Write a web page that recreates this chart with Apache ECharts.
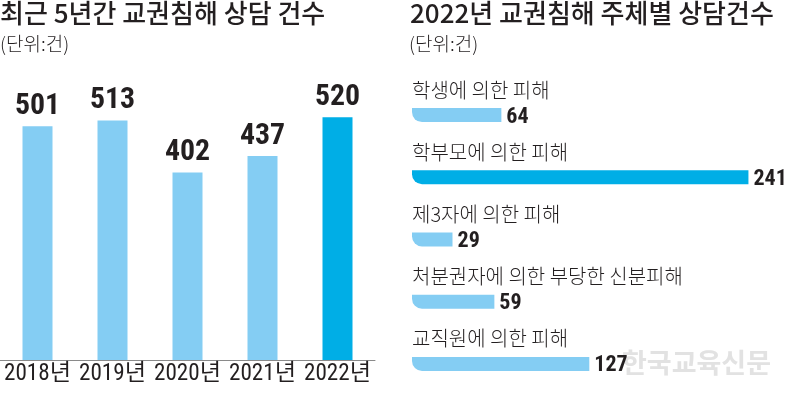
<!DOCTYPE html>
<html>
<head>
<meta charset="utf-8">
<script src="https://cdn.jsdelivr.net/npm/echarts@6/dist/echarts.min.js"></script>
<style>
  html, body { margin: 0; padding: 0; background: #ffffff; }
  #chart { width: 792px; height: 395px; }
</style>
</head>
<body>
<div id="chart"></div>
<script>
// ---- Data ----
const leftTitle = '최근 5년간 교권침해 상담 건수';
const rightTitle = '2022년 교권침해 주체별 상담건수';
const unitText = '(단위:건)';
const years = ['2018년', '2019년', '2020년', '2021년', '2022년'];
const yearCounts = [501, 513, 402, 437, 520];
const highlightYear = '2022년';
const subjects = ['학생에 의한 피해', '학부모에 의한 피해', '제3자에 의한 피해', '처분권자에 의한 부당한 신분피해', '교직원에 의한 피해'];
const subjectCounts = [64, 241, 29, 59, 127];
const highlightSubject = '학부모에 의한 피해';
const watermark = '한국교육신문';

// ---- Styles ----
const LIGHT = '#84cdf3';
const DARK = '#00aee6';
const INK = '#231f20';
const KFONT = '"Noto Sans CJK KR", "Noto Sans", sans-serif';

// pick the narrowest installed numeric font
const ctx = document.createElement('canvas').getContext('2d');
function available(f) {
  const s = '0123456789 abcdefgWM';
  for (const base of ['monospace', 'serif']) {
    ctx.font = '100px ' + base; const a = ctx.measureText(s).width;
    ctx.font = '100px "' + f + '", ' + base; const b = ctx.measureText(s).width;
    if (Math.abs(a - b) > 0.5) return true;
  }
  return false;
}
const narrowCandidates = ['Liberation Sans Narrow', 'Roboto Condensed', 'Noto Sans Condensed', 'Open Sans Condensed', 'DejaVu Sans Condensed', 'Arial Narrow', 'Liberation Sans'];
let NARROW = 'Liberation Sans';
for (const c of narrowCandidates) { if (available(c)) { NARROW = c; break; } }
const NFONT = '"' + NARROW + '", "Noto Sans CJK KR", sans-serif';

function fitSize(text, weight, targetW, targetH, k) {
  ctx.font = weight + ' 100px ' + NFONT;
  const w = ctx.measureText(text).width;
  const sw = targetW * 100 / w;
  const sh = targetH / 0.72;
  return Math.min(sh, Math.pow(sw, 1 - k) * Math.pow(sh, k));
}
const leftValueSize = fitSize('501', 'bold', 33, 22.7, 0.85);
const rightValueSize = fitSize('241', 'bold', 32, 16, 0.85);
const yearLabelSize = fitSize('2018년', 'normal', 62, 18, 0.5);

const chart = echarts.init(document.getElementById('chart'), null, { renderer: 'canvas' });

const option = {
  backgroundColor: '#ffffff',
  animation: false,
  graphic: [
    { type: 'text', left: 0, top: 0, style: { text: leftTitle, font: '500 26px ' + KFONT, fill: INK } },
    { type: 'text', left: 0, top: 34, style: { text: unitText, font: '300 19px ' + KFONT, fill: INK } },
    { type: 'text', left: 410, top: 0, style: { text: rightTitle, font: '500 26px ' + KFONT, fill: INK } },
    { type: 'text', left: 409, top: 34, style: { text: unitText, font: '300 19px ' + KFONT, fill: INK } },
    { type: 'text', left: 622, top: 349, z: 0, style: { text: watermark, font: 'bold 27px ' + KFONT, fill: '#e2e2e2' } }
  ],
  grid: [
    { left: -2, top: 80, width: 377, height: 280 },
    { left: 412, top: 84, width: 349, height: 323 }
  ],
  xAxis: [
    {
      gridIndex: 0, type: 'category', data: years,
      axisLine: { show: true, lineStyle: { color: '#8a8a8a', width: 1 } },
      axisTick: { show: false },
      axisLabel: { interval: 0, margin: 3, fontSize: yearLabelSize, fontFamily: NFONT, color: INK }
    },
    {
      gridIndex: 1, type: 'value', min: 0, max: 250,
      show: false
    }
  ],
  yAxis: [
    { gridIndex: 0, type: 'value', min: 0, max: 600, show: false },
    { gridIndex: 1, type: 'category', data: subjects, inverse: true, show: false }
  ],
  series: [
    {
      type: 'bar', xAxisIndex: 0, yAxisIndex: 0, barWidth: 30, z: 3,
      data: yearCounts.map((v, i) => ({
        value: v,
        itemStyle: { color: years[i] === highlightYear ? DARK : LIGHT }
      })),
      label: {
        show: true, position: 'top', distance: 5,
        fontSize: leftValueSize, fontWeight: 'bold', fontFamily: NFONT, color: INK
      }
    },
    {
      type: 'bar', xAxisIndex: 1, yAxisIndex: 1, barWidth: 14, z: 3,
      data: subjectCounts.map((v, i) => ({
        value: v,
        itemStyle: { color: subjects[i] === highlightSubject ? DARK : LIGHT, borderRadius: [0, 0, 0, 10] }
      })),
      label: {
        show: true, position: 'right', distance: 5, offset: [0, 2],
        fontSize: rightValueSize, fontWeight: 'bold', fontFamily: NFONT, color: INK
      }
    },
    {
      type: 'bar', xAxisIndex: 1, yAxisIndex: 1, barWidth: 14, barGap: '-100%', z: 2,
      silent: true,
      data: subjectCounts,
      itemStyle: { color: 'rgba(0,0,0,0)' },
      label: {
        show: true, position: [0, -28], formatter: '{b}',
        fontSize: 20, fontWeight: 300, fontFamily: KFONT, color: INK
      }
    }
  ]
};
chart.setOption(option);
</script>
</body>
</html>
